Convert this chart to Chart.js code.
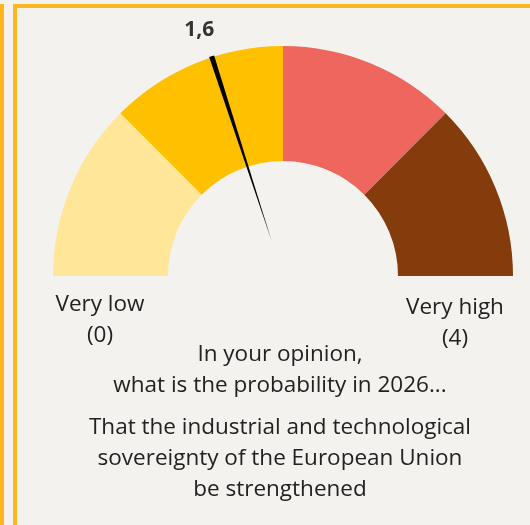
<!DOCTYPE html>
<html>
<head>
<meta charset="utf-8">
<script src="https://cdn.jsdelivr.net/npm/chart.js@4"></script>
<style>
  html, body { margin: 0; padding: 0; }
  body { width: 530px; height: 525px; background: #f3f2ee; position: relative; overflow: hidden;
         font-family: "Open Sans", sans-serif; color: #222; }
  .frame { position: absolute; border: 4px solid #fdb61c; box-sizing: border-box; }
  #wrap { position: absolute; left: 0; top: 0; width: 530px; height: 525px; }
  .lbl { position: absolute; font-size: 22.5px; line-height: 31px; text-align: center; white-space: nowrap; }
</style>
</head>
<body>
<div class="frame" style="left:-30px; top:4px; width:34px; height:600px;"></div>
<div class="frame" style="left:13px; top:4px; width:600px; height:600px;"></div>
<div id="wrap"><canvas id="gauge"></canvas></div>
<div class="lbl" id="lowLbl" style="left:40px; top:287px; width:120px;"></div>
<div class="lbl" id="highLbl" style="left:395px; top:290px; width:120px;"></div>
<div class="lbl" id="question" style="left:30px; top:337px; width:500px;"></div>
<div class="lbl" id="subject" style="left:30px; top:410px; width:500px;"></div>
<script>
document.addEventListener("DOMContentLoaded", function() {
    // gauge bands 0-1, 1-2, 2-3, 3-4
    let bands = [1, 1, 1, 1];
    let bandColors = ["#ffe699", "#ffc000", "#ee665e", "#843c0c"];
    let gaugeMax = 4;
    let score = 1.6;
    let scoreText = "1,6";
    let lowText = ["Very low", "(0)"];
    let highText = ["Very high", "(4)"];
    let questionText = ["In your opinion,", "what is the probability in 2026..."];
    let subjectText = ["That the industrial and technological", "sovereignty of the European Union", "be strengthened"];

    document.getElementById("lowLbl").innerHTML = lowText.join("<br>");
    document.getElementById("highLbl").innerHTML = highText.join("<br>");
    document.getElementById("question").innerHTML = questionText.join("<br>");
    document.getElementById("subject").innerHTML = subjectText.join("<br>");

    let needle = {
        id: "needle",
        afterDatasetsDraw(chart) {
            let arc = chart.getDatasetMeta(0).data[0];
            let ctx = chart.ctx;
            let cx = arc.x, cy = arc.y, r = arc.outerRadius;
            let a = Math.PI + (score / gaugeMax) * Math.PI;
            let ux = Math.cos(a), uy = Math.sin(a);
            let px = -uy, py = ux;
            ctx.save();
            ctx.fillStyle = "#000";
            ctx.beginPath();
            ctx.moveTo(cx + ux * (r + 1) + px * 2.6, cy + uy * (r + 1) + py * 2.6);
            ctx.lineTo(cx + ux * (r + 1) - px * 2.6, cy + uy * (r + 1) - py * 2.6);
            ctx.lineTo(cx + ux * 36, cy + uy * 36);
            ctx.closePath();
            ctx.fill();
            ctx.font = "bold 21px 'Open Sans', sans-serif";
            ctx.fillStyle = "#333";
            ctx.textAlign = "center";
            ctx.textBaseline = "middle";
            ctx.fillText(scoreText, cx + ux * (r + 31) - 3, cy + uy * (r + 31) + 2);
            ctx.restore();
        }
    };

    new Chart(document.getElementById("gauge"), {
        type: "doughnut",
        data: {
            labels: ["0-1", "1-2", "2-3", "3-4"],
            datasets: [{
                data: bands,
                backgroundColor: bandColors,
                borderWidth: 0
            }]
        },
        options: {
            responsive: true,
            maintainAspectRatio: false,
            animation: false,
            rotation: -90,
            circumference: 180,
            cutout: "50%",
            layout: { padding: { left: 53, right: 17, top: 46, bottom: 249 } },
            plugins: {
                legend: { display: false },
                tooltip: { enabled: false }
            }
        },
        plugins: [needle]
    });
});
</script>
</body>
</html>
